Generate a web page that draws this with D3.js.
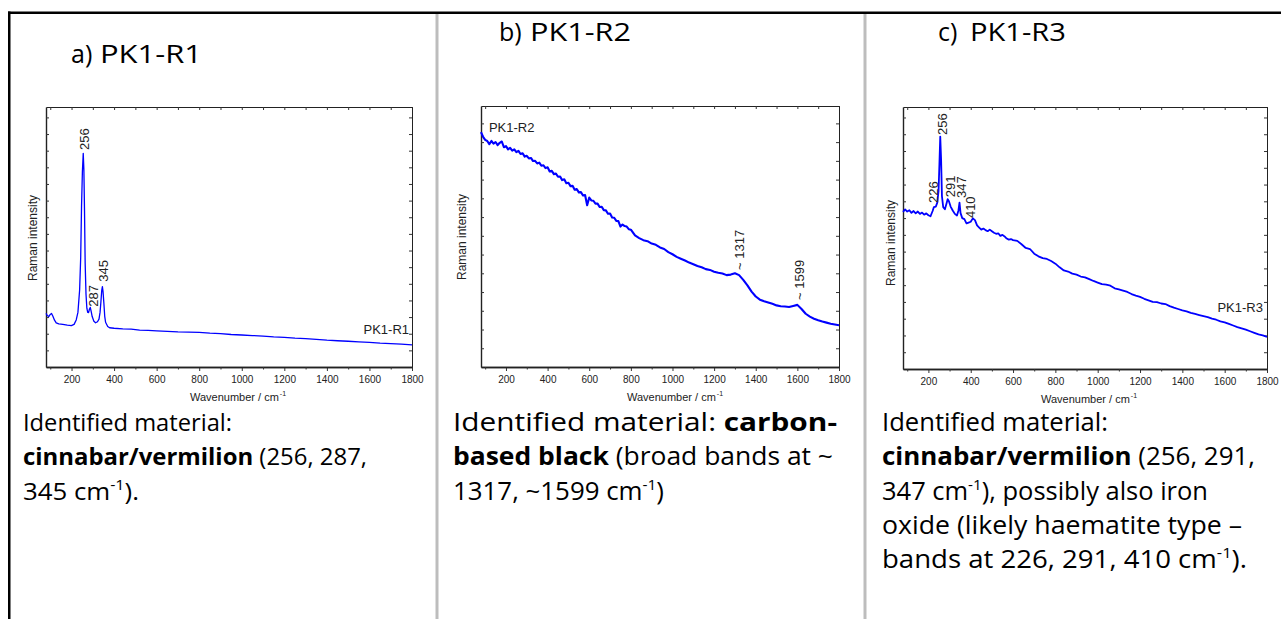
<!DOCTYPE html>
<html>
<head>
<meta charset="utf-8">
<script src="https://cdn.jsdelivr.net/npm/d3@7"></script>
<style>
  body { margin: 0; background: #fff; }
  svg { display: block; }
</style>
</head>
<body>
<svg id="page" width="1281" height="619"></svg>
<script>
width = 1281
height = 619

const chartFont = "'Liberation Sans', Arial, sans-serif";
const docFont = "'Open Sans', 'Noto Sans', sans-serif";

// shared axis values
const xDomain = [80, 1800];
const yDomain = [0, 100];
const xTicks = [200, 400, 600, 800, 1000, 1200, 1400, 1600, 1800];
const xMinorTicks = [100, 300, 500, 700, 900, 1100, 1300, 1500, 1700];

// a) PK1-R1, intensity in % of plot height
const r1Wave = [80, 86, 93, 100, 106, 112, 120, 128, 140, 159, 180, 199, 212, 222, 230, 238, 243, 247, 251, 255,
  258, 261, 264, 268, 272, 276, 280, 284, 288, 292, 297, 305, 313, 322, 329, 334, 338, 342, 345, 348,
  352, 356, 360, 370, 379, 400, 441, 480, 520, 560, 600, 650, 700, 750, 800, 850, 900, 950, 1000, 1050,
  1100, 1150, 1200, 1250, 1300, 1350, 1400, 1450, 1500, 1550, 1600, 1650, 1700, 1750, 1800];
const r1Int = [20.6, 19.8, 19.4, 20.2, 20.6, 19.6, 18.0, 17.0, 16.6, 16.4, 16.1, 15.9, 16.4, 18.1, 21.0, 29.6, 42.0, 61.7, 75.0, 82.2,
  76.0, 60.0, 40.0, 28.0, 22.6, 21.0, 20.9, 22.2, 22.9, 21.5, 19.4, 17.6, 17.0, 17.4, 18.4, 21.0, 25.0, 29.5, 30.9, 29.0,
  24.5, 19.5, 17.2, 15.6, 15.1, 14.9, 14.7, 14.6, 14.2, 14.1, 13.9, 13.7, 13.5, 13.4, 13.3, 13.0, 12.8, 12.5, 12.3, 12.1,
  11.9, 11.6, 11.4, 11.1, 10.9, 10.6, 10.3, 10.1, 9.9, 9.7, 9.5, 9.2, 9.0, 8.8, 8.5];
const r1PeakLabels = ["256", "287", "345"];
const r1PeakWave = [261, 302, 351];
const r1PeakInt = [83.5, 23.2, 32.8];

// b) PK1-R2
const r2Wave = [80, 90, 100, 110, 120, 130, 140, 150, 160, 170, 180, 190, 200, 210, 220, 230, 240, 250, 260, 270,
  280, 290, 300, 310, 320, 330, 340, 350, 360, 370, 380, 390, 400, 410, 420, 430, 440, 450, 460, 470,
  480, 490, 500, 510, 520, 530, 540, 550, 560, 570, 580, 590, 600, 610, 620, 630, 640, 650, 660, 670,
  680, 690, 700, 710, 720, 730, 740, 750, 760, 770, 780, 790, 800, 820, 840, 860, 880, 900, 920, 940,
  960, 980, 1000, 1020, 1040, 1060, 1080, 1100, 1120, 1140, 1160, 1180, 1200, 1220, 1240, 1260, 1280, 1300, 1320, 1340,
  1360, 1380, 1400, 1420, 1440, 1460, 1480, 1500, 1520, 1540, 1560, 1580, 1600, 1620, 1640, 1660, 1680, 1700, 1720, 1740,
  1760, 1780, 1800];
const r2Int = [90.0, 88.2, 87.0, 86.6, 85.4, 86.6, 85.6, 86.2, 85.0, 85.9, 86.4, 84.2, 84.6, 83.4, 84.0, 82.9, 83.4, 82.3, 82.8, 81.6,
  81.9, 80.6, 80.9, 79.9, 80.1, 78.9, 79.0, 78.0, 78.3, 77.1, 77.3, 76.2, 76.5, 74.9, 75.2, 73.9, 74.1, 72.9, 73.0, 71.6,
  71.9, 70.4, 70.6, 69.3, 69.4, 67.9, 68.2, 66.9, 67.0, 65.7, 65.9, 62.0, 64.9, 63.8, 63.7, 62.6, 62.6, 61.3, 61.4, 60.1,
  60.0, 58.7, 58.8, 57.3, 57.2, 56.0, 55.9, 53.8, 54.6, 54.0, 53.8, 52.8, 52.6, 50.4, 49.4, 48.6, 48.2, 47.3, 46.8, 45.8,
  45.2, 44.0, 43.2, 42.2, 41.5, 40.8, 40.0, 39.4, 38.7, 38.2, 37.5, 37.2, 36.5, 36.1, 35.8, 35.2, 35.4, 35.9, 35.2, 33.4,
  31.3, 28.9, 27.0, 25.8, 25.2, 24.7, 24.2, 23.6, 23.3, 23.2, 23.0, 23.4, 23.8, 22.2, 20.4, 19.3, 18.5, 17.9, 17.4, 17.0,
  16.6, 16.3, 16.0];
const r2PeakLabels = ["~ 1317", "~ 1599"];
const r2PeakWave = [1324, 1612];
const r2PeakInt = [37.2, 25.7];

// c) PK1-R3
const r3Wave = [80, 90, 100, 110, 120, 130, 140, 150, 160, 170, 180, 190, 200, 210, 220, 226, 235, 242, 248, 252,
  256, 260, 264, 270, 278, 285, 291, 297, 305, 315, 325, 335, 342, 347, 352, 360, 370, 380, 390, 400,
  410, 420, 430, 440, 450, 460, 470, 480, 490, 500, 510, 520, 530, 540, 550, 560, 570, 580, 590, 600,
  620, 640, 660, 680, 700, 720, 740, 760, 780, 800, 820, 840, 860, 880, 900, 920, 940, 960, 980, 1000,
  1020, 1040, 1060, 1080, 1100, 1120, 1140, 1160, 1180, 1200, 1220, 1240, 1260, 1280, 1300, 1320, 1340, 1360, 1380, 1400,
  1420, 1440, 1460, 1480, 1500, 1520, 1540, 1560, 1580, 1600, 1620, 1640, 1660, 1680, 1700, 1720, 1740, 1760, 1780, 1800];
const r3Int = [60.0, 60.9, 60.1, 60.6, 59.6, 60.3, 59.4, 60.1, 59.2, 59.7, 58.9, 59.4, 58.7, 58.3, 60.3, 61.8, 62.0, 63.5, 68.0, 78.0,
  88.7, 80.0, 66.0, 61.8, 61.0, 63.0, 64.8, 64.0, 62.0, 60.5, 59.2, 58.6, 60.5, 63.5, 59.5, 57.6, 57.2, 55.6, 55.9, 56.2,
  57.5, 56.8, 54.8, 54.0, 53.2, 53.6, 53.0, 52.6, 53.2, 52.6, 52.0, 51.6, 51.8, 50.8, 51.2, 50.6, 49.8, 49.4, 49.6, 49.2,
  48.9, 47.6, 46.2, 45.8, 44.0, 43.0, 42.3, 42.0, 41.2, 40.2, 38.8, 37.6, 37.2, 36.4, 36.0, 35.3, 35.0, 34.3, 33.6, 33.0,
  32.4, 32.2, 31.8, 30.8, 30.4, 29.9, 29.4, 28.6, 28.0, 27.5, 26.8, 26.2, 25.6, 25.5, 25.0, 24.8, 24.0, 23.4, 22.9, 22.4,
  22.0, 21.4, 21.0, 20.6, 20.2, 19.8, 19.2, 18.8, 18.2, 17.8, 17.2, 16.6, 16.0, 15.5, 15.0, 14.4, 13.8, 13.2, 12.8, 12.3];
const r3PeakLabels = ["256", "226", "291", "347", "410"];
const r3PeakWave = [264, 222, 302, 354, 399];
const r3PeakInt = [89.3, 63.4, 65.6, 65.3, 57.6];

// text under each spectrum: [text, style] with n = normal, b = bold, s = superscript
const textA = [
  [["Identified material:", "n"]],
  [["cinnabar/vermilion", "b"], [" (256, 287,", "n"]],
  [["345 cm", "n"], ["-1", "s"], [").", "n"]]
];
const textB = [
  [["Identified material: ", "n"], ["carbon-", "b"]],
  [["based black", "b"], [" (broad bands at ~", "n"]],
  [["1317, ~1599 cm", "n"], ["-1", "s"], [")", "n"]]
];
const textC = [
  [["Identified material:", "n"]],
  [["cinnabar/vermilion", "b"], [" (256, 291,", "n"]],
  [["347 cm", "n"], ["-1", "s"], ["), possibly also iron", "n"]],
  [["oxide (likely haematite type \u2013", "n"]],
  [["bands at 226, 291, 410 cm", "n"], ["-1", "s"], [").", "n"]]
];

const panels = [
  { tag: "a)", title: "PK1-R1", tagX: 71, titleX: 100, titleY: 63, titleW: 102,
    left: 46, right: 412, top: 107, bottom: 367, yStep: 6.4, lineW: 1.3,
    wave: r1Wave, int: r1Int, peaks: r1PeakLabels, peakWave: r1PeakWave, peakInt: r1PeakInt,
    name: "PK1-R1", nameWave: 1786, nameInt: 12.7, nameAnchor: "end",
    yLabX: 33, yLabY: 238, xLabX: 190,
    textX: 23, textSize: 24, text: textA, textW: [209, 344, 116] },
  { tag: "b)", title: "PK1-R2", tagX: 499, titleX: 530, titleY: 41, titleW: 101,
    left: 481, right: 839, top: 106, bottom: 367, yStep: 7.18, lineW: 2.1,
    wave: r2Wave, int: r2Int, peaks: r2PeakLabels, peakWave: r2PeakWave, peakInt: r2PeakInt,
    name: "PK1-R2", nameWave: 118, nameInt: 90.2, nameAnchor: "start",
    yLabX: 462, yLabY: 237, xLabX: 627,
    textX: 453, textSize: 25, text: textB, textW: [384, 380, 211] },
  { tag: "c)", title: "PK1-R3", tagX: 938, titleX: 970, titleY: 41, titleW: 96,
    left: 903, right: 1267, top: 107, bottom: 369, yStep: 6.4, lineW: 1.8,
    wave: r3Wave, int: r3Int, peaks: r3PeakLabels, peakWave: r3PeakWave, peakInt: r3PeakInt,
    name: "PK1-R3", nameWave: 1781, nameInt: 21.6, nameAnchor: "end",
    yLabX: 891, yLabY: 243, xLabX: 1041,
    textX: 882, textSize: 25, text: textC, textW: [226, 373, 326, 360, 365] }
];

const svg = d3.select("#page");

function table() {
  svg.append("rect").attr("x", 8).attr("y", 11.5).attr("width", 1273).attr("height", 2.5).attr("fill", "#000");
  svg.append("rect").attr("x", 8).attr("y", 11.5).attr("width", 2.5).attr("height", 620).attr("fill", "#000");
  [435.5, 863.5].forEach(function (x) {
    svg.append("rect").attr("x", x).attr("y", 14).attr("width", 3).attr("height", 605).attr("fill", "#bdbdbd");
  });
}

function axisStyle(sel, w) {
  sel.attr("font-family", chartFont).attr("font-size", 10);
  sel.selectAll("line").attr("stroke", "#333");
  sel.select(".domain").attr("stroke", "#222").attr("stroke-width", w);
  sel.selectAll("text").attr("fill", "#222");
}

function spectrum(p) {
  const x = d3.scaleLinear().domain(xDomain).range([p.left, p.right]);
  const y = d3.scaleLinear().domain(yDomain).range([p.bottom, p.top]);
  const yTicks = d3.range(p.yStep, 100, p.yStep);
  const g = svg.append("g");

  // frame: bottom with labels, the other three sides only carry inward ticks
  g.append("g").attr("transform", "translate(0," + p.bottom + ")")
      .call(d3.axisBottom(x).tickValues(xTicks).tickSize(4).tickSizeOuter(0).tickPadding(5).tickFormat(d3.format("d")))
      .call(axisStyle, 1.4);
  g.append("g").attr("transform", "translate(0," + p.bottom + ")")
      .call(d3.axisBottom(x).tickValues(xMinorTicks).tickSize(2.5).tickSizeOuter(0).tickFormat(""))
      .call(axisStyle, 1.4);
  g.append("g").attr("transform", "translate(0," + p.top + ")")
      .call(d3.axisTop(x).tickValues(xTicks.concat(xMinorTicks)).tickSize(-3).tickSizeOuter(0).tickFormat(""))
      .call(axisStyle, 1);
  g.append("g").attr("transform", "translate(" + p.left + ",0)")
      .call(d3.axisLeft(y).tickValues(yTicks).tickSize(-3).tickSizeOuter(0).tickFormat(""))
      .call(axisStyle, 1.4);
  g.append("g").attr("transform", "translate(" + p.right + ",0)")
      .call(d3.axisRight(y).tickValues(yTicks).tickSize(-3).tickSizeOuter(0).tickFormat(""))
      .call(axisStyle, 1);

  const line = d3.line()
      .x(function (d) { return x(d[0]) })
      .y(function (d) { return y(d[1]) });

  g.append("path")
      .datum(d3.zip(p.wave, p.int))
      .attr("fill", "none")
      .attr("stroke", "#0000ff")
      .attr("stroke-width", p.lineW)
      .attr("stroke-linejoin", "round")
      .attr("d", line);

  // rotated peak positions
  g.selectAll(".peak")
    .data(p.peaks)
    .join("text")
      .attr("class", "peak")
      .attr("transform", function (d, i) {
        return "translate(" + x(p.peakWave[i]) + "," + y(p.peakInt[i]) + ") rotate(-90)";
      })
      .attr("dy", "0.35em")
      .attr("font-family", chartFont)
      .attr("font-size", 13)
      .attr("fill", "#222")
      .text(function (d) { return d });

  g.append("text")
      .attr("x", x(p.nameWave))
      .attr("y", y(p.nameInt))
      .attr("text-anchor", p.nameAnchor)
      .attr("font-family", chartFont)
      .attr("font-size", 13)
      .attr("fill", "#222")
      .text(p.name);

  g.append("text")
      .attr("transform", "translate(" + p.yLabX + "," + p.yLabY + ") rotate(-90)")
      .attr("text-anchor", "middle")
      .attr("dy", "0.35em")
      .attr("font-family", chartFont)
      .attr("font-size", 12)
      .attr("fill", "#222")
      .text("Raman intensity");

  const xl = g.append("text")
      .attr("x", p.xLabX)
      .attr("y", p.bottom + 34)
      .attr("font-family", chartFont)
      .attr("font-size", 11)
      .attr("fill", "#222");
  xl.append("tspan").text("Wavenumber / cm");
  xl.append("tspan").attr("dx", 1).attr("dy", -5.5).attr("font-size", 7).text("-1");
}

function caption(p) {
  const g = svg.append("g").attr("font-family", docFont).attr("fill", "#000");

  g.append("text").attr("x", p.tagX).attr("y", p.titleY).attr("font-size", 25).text(p.tag);
  g.append("text").attr("x", p.titleX).attr("y", p.titleY).attr("font-size", 26)
      .attr("textLength", p.titleW).attr("lengthAdjust", "spacingAndGlyphs").text(p.title);

  p.text.forEach(function (row, i) {
    const t = g.append("text")
        .attr("x", p.textX)
        .attr("y", 431 + i * 34.3)
        .attr("font-size", p.textSize)
        .attr("textLength", p.textW[i])
        .attr("lengthAdjust", "spacingAndGlyphs");
    let raised = false;
    row.forEach(function (seg) {
      const s = t.append("tspan").text(seg[0]);
      if (seg[1] === "b") s.attr("font-weight", 700);
      if (seg[1] === "s") {
        s.attr("font-size", 15).attr("dy", -10);
        raised = true;
      } else if (raised) {
        s.attr("dy", 10);
        raised = false;
      }
    });
  });
}

table();
panels.forEach(function (p) {
  spectrum(p);
  caption(p);
});
</script>
</body>
</html>
